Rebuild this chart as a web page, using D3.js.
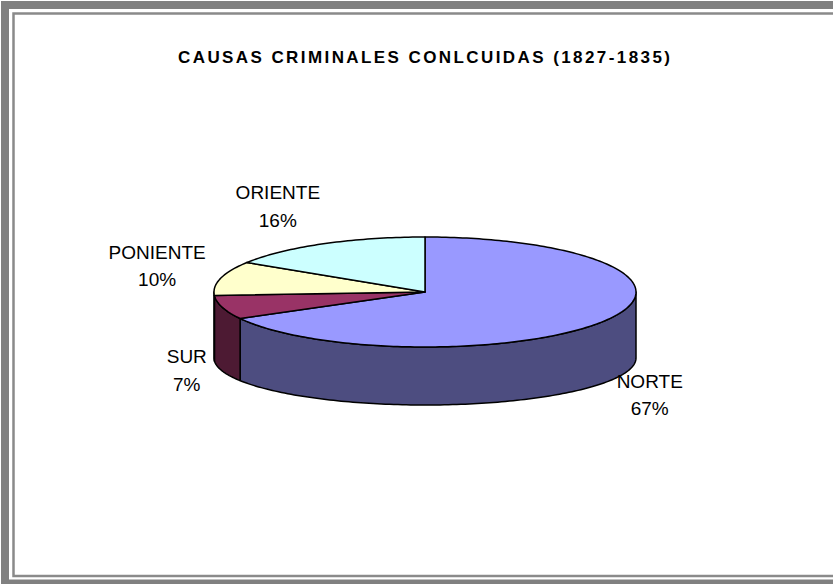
<!DOCTYPE html>
<html>
<head>
<meta charset="utf-8">
<script src="https://cdn.jsdelivr.net/npm/d3@7"></script>
<style>
  html, body { margin: 0; padding: 0; background: #fff; }
  svg { display: block; }
  .lbl { font-family: "Liberation Sans", Arial, sans-serif; font-size: 19px; fill: #000; }
  .title { font-family: "Liberation Sans", Arial, sans-serif; font-size: 17px; font-weight: bold; fill: #000; }
</style>
</head>
<body>
<div id="chart"></div>
<script>
// datos
var categorias = ["NORTE", "SUR", "PONIENTE", "ORIENTE"];
var porcentajes = [67, 7, 10, 16];
var colores = ["#9999FF", "#993366", "#FFFFCC", "#CCFFFF"];
var titulo = "CAUSAS CRIMINALES CONLCUIDAS (1827-1835)";

var width = 833, height = 584;

// geometria del pastel 3D
var cx = 425, cy = 292;
var rx = 211, ry = 55;
var bcy = 358, bry = 47;      // elipse de abajo (perspectiva)
var labRx = 228, labRy = 86, labDepth = 48;
var labelNudge = [[0, 0], [0, 0], [0, 0], [-17, 8]];

var svg = d3.select("#chart").append("svg")
    .attr("width", width)
    .attr("height", height);

// marco
svg.append("rect")
    .attr("x", 5).attr("y", 5)
    .attr("width", 1200).attr("height", 578.5)
    .attr("fill", "none")
    .attr("stroke", "#808080")
    .attr("stroke-width", 8);
svg.append("rect")
    .attr("x", 13.5).attr("y", 13.5)
    .attr("width", 1200).attr("height", 562.5)
    .attr("fill", "none")
    .attr("stroke", "#8a8a8a")
    .attr("stroke-width", 2.5);

// titulo
svg.append("text")
    .attr("class", "title")
    .attr("x", 178)
    .attr("y", 63)
    .attr("textLength", 492)
    .attr("lengthAdjust", "spacing")
    .text(titulo);

var pie = d3.pie().sort(null).startAngle(0).endAngle(2 * Math.PI);
var arcs = pie(porcentajes);

function pt(a, yc, ryy) {
    return [cx + rx * Math.sin(a), yc - ryy * Math.cos(a)];
}
function arcPts(a0, a1, yc, ryy) {
    var n = Math.max(2, Math.ceil(Math.abs(a1 - a0) / 0.02));
    return d3.range(n + 1).map(function(i) {
        return pt(a0 + (a1 - a0) * i / n, yc, ryy);
    });
}
function shade(c) {
    var r = d3.rgb(c);
    return d3.rgb(r.r / 2, r.g / 2, r.b / 2).formatHex();
}

var line = d3.line();

// caras laterales (solo la mitad de adelante)
var lado = svg.append("g");
arcs.forEach(function(d, i) {
    var a0 = Math.max(d.startAngle, Math.PI / 2);
    var a1 = Math.min(d.endAngle, 3 * Math.PI / 2);
    if (a1 <= a0) return;
    var pts = arcPts(a0, a1, cy, ry).concat(arcPts(a1, a0, bcy, bry));
    lado.append("path")
        .attr("d", line(pts) + "Z")
        .attr("fill", shade(colores[i]))
        .attr("stroke", "#000")
        .attr("stroke-width", 1.5)
        .attr("stroke-linejoin", "round");
});

// cara de arriba
var tapa = svg.append("g");
arcs.forEach(function(d, i) {
    var pts = [[cx, cy]].concat(arcPts(d.startAngle, d.endAngle, cy, ry));
    tapa.append("path")
        .attr("d", line(pts) + "Z")
        .attr("fill", colores[i])
        .attr("stroke", "#000")
        .attr("stroke-width", 1.5)
        .attr("stroke-linejoin", "round");
});

// etiquetas
arcs.forEach(function(d, i) {
    var m = (d.startAngle + d.endAngle) / 2;
    var s = Math.sin(m), c = Math.cos(m);
    var g = svg.append("g");
    var t = g.append("text").attr("class", "lbl").attr("text-anchor", "middle");
    t.append("tspan").attr("x", 0).attr("y", -6.75).text(categorias[i]);
    t.append("tspan").attr("x", 0).attr("y", 20.75).text(porcentajes[i] + "%");
    var w = t.node().getBBox().width;
    var ax = cx + labRx * s;
    var ay = cy - labRy * c + (c < 0 ? labDepth : 0);
    var px = ax + s * w / 2 + labelNudge[i][0];
    var py = ay - c * 21 + labelNudge[i][1];
    g.attr("transform", "translate(" + px + "," + py + ")");
});
</script>
</body>
</html>
